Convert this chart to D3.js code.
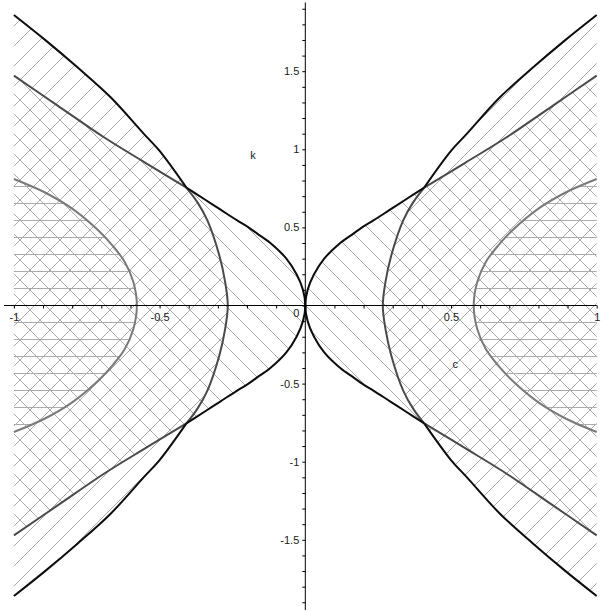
<!DOCTYPE html>
<html>
<head>
<meta charset="utf-8">
<script src="https://cdn.jsdelivr.net/npm/d3@7"></script>
<style>
  html, body { margin: 0; padding: 0; background: #fff; }
  svg { display: block; }
</style>
</head>
<body>
<div id="chart"></div>
<script>
// Boundary curves, upper-right quadrant only (k >= 0, c >= 0).
// The figure is symmetric in c and in k, so each branch is mirrored when drawn.
// O: through the origin, V: vertex near c = 0.27, I: inner curve, vertex near c = 0.58
const kO = [0, 0.1, 0.2, 0.3, 0.4, 0.46, 0.5, 0.546, 0.615, 0.68, 0.755, 0.915, 1.077, 1.28, 1.472];
const cO = [0, 0.008, 0.03, 0.065, 0.12, 0.165, 0.195, 0.235, 0.292, 0.346, 0.408, 0.55, 0.691, 0.85, 1.0];
const kV = [0, 0.15, 0.32, 0.545, 0.66, 0.755, 0.99, 1.099, 1.333, 1.525, 1.699, 1.86];
const cV = [0.266, 0.275, 0.295, 0.336, 0.37, 0.408, 0.5, 0.554, 0.668, 0.782, 0.892, 1.0];
const kI = [0, 0.15, 0.28, 0.38, 0.48, 0.62, 0.725, 0.81];
const cI = [0.578, 0.59, 0.62, 0.66, 0.71, 0.80, 0.895, 1.0];
// index where O and V cross (stroke colour changes there)
const crossO = 10, crossV = 5;

const xTicks = d3.range(-10, 11).map(i => i / 10);
const yTicks = d3.range(-19, 20).map(i => i / 10);
const xLabels = [-1, -0.5, 0.5, 1];
const yLabels = [-1.5, -1, -0.5, 0.5, 1, 1.5];

const W = 612, H = 612;
const FONT = "'Liberation Sans', Arial, Helvetica, sans-serif";

const x = d3.scaleLinear().domain([-1, 1]).range([13.9, 596.7]);
const y = d3.scaleLinear().domain([-1.5, 1.5]).range([539.8, 71.2]);

const svg = d3.select("#chart").append("svg")
  .attr("width", W).attr("height", H)
  .attr("viewBox", `0 0 ${W} ${H}`);
svg.append("rect").attr("width", W).attr("height", H).attr("fill", "#fff");

// ── hatch patterns (page-aligned) ──
const defs = svg.append("defs");
const HATCH = "#ababab";
const pat = (id, w, h, py, d) => {
  defs.append("pattern")
    .attr("id", id).attr("patternUnits", "userSpaceOnUse")
    .attr("x", 0).attr("y", py).attr("width", w).attr("height", h)
    .append("path").attr("d", d)
    .attr("stroke", HATCH).attr("stroke-width", 1).attr("fill", "none");
};
pat("hUp", 20, 20, 0, "M-5,5L5,-5M0,20L20,0M15,25L25,15");
pat("hDown", 20, 20, 0, "M-5,15L5,25M0,0L20,20M15,-5L25,5");
pat("hFlat", 20, 17, 8, "M0,8.5H20");

// points of one quadrant -> [c,k] list, sx mirrors in c
const quad = (ks, cs, sx) => ks.map((k, i) => [sx * cs[i], k]);
// full branch from -k to +k
const branch = pts => pts.slice(1).reverse().map(([c, k]) => [c, -k]).concat(pts);
const flipK = pts => pts.map(([c, k]) => [c, -k]);

const line = d3.line()
  .x(d => x(d[0])).y(d => y(d[1]))
  .curve(d3.curveCatmullRom.alpha(0.5));

// ── hatched regions: outside V "/", outside O "\", outside I "—" ──
const regions = [
  { ks: kV, cs: cV, fill: "url(#hUp)" },
  { ks: kO, cs: cO, fill: "url(#hDown)" },
  { ks: kI, cs: cI, fill: "url(#hFlat)" },
];
regions.forEach(r => {
  [1, -1].forEach(sx => {
    svg.append("path")
      .attr("d", line(branch(quad(r.ks, r.cs, sx))) + "Z")
      .attr("fill", r.fill).attr("stroke", "none");
  });
});

// ── boundary curves ──
const stroke = (pts, col) => svg.append("path")
  .attr("d", line(pts))
  .attr("fill", "none").attr("stroke", col)
  .attr("stroke-width", 2).attr("stroke-linejoin", "round");

const BLACK = "#0d0d0d", DARK = "#4a4a4a", MID = "#7a7a7a";
[1, -1].forEach(sx => {
  const o = quad(kO, cO, sx), v = quad(kV, cV, sx), inn = quad(kI, cI, sx);
  // dark grey: V near its vertex, O past the crossing
  stroke(branch(v.slice(0, crossV + 1)), DARK);
  stroke(o.slice(crossO), DARK);
  stroke(flipK(o.slice(crossO)), DARK);
  // black: O near the origin, V past the crossing
  stroke(branch(o.slice(0, crossO + 1)), BLACK);
  stroke(v.slice(crossV), BLACK);
  stroke(flipK(v.slice(crossV)), BLACK);
  // inner curve
  stroke(branch(inn), MID);
});

// ── axes through the origin ──
const x0 = x(0), y0 = y(0);
const ax = svg.append("g").attr("font-family", FONT);

ax.append("line")
  .attr("x1", x(-1.034)).attr("x2", x(1.0)).attr("y1", y0).attr("y2", y0)
  .attr("stroke", "#000").attr("stroke-width", 1);
ax.append("line")
  .attr("x1", x0).attr("x2", x0).attr("y1", y(1.94)).attr("y2", y(-1.95))
  .attr("stroke", "#000").attr("stroke-width", 1);

const fmt = v => String(Math.round(v * 10) / 10);

const xAxis = d3.axisBottom(x)
  .tickValues(xTicks).tickSize(3).tickPadding(5)
  .tickFormat(v => xLabels.some(l => Math.abs(l - v) < 1e-9) ? fmt(v) : "");
const gx = ax.append("g").attr("transform", `translate(0,${y0})`).call(xAxis);

const yAxis = d3.axisLeft(y)
  .tickValues(yTicks).tickSize(3).tickPadding(3)
  .tickFormat(v => yLabels.some(l => Math.abs(l - v) < 1e-9) ? fmt(v) : "");
const gy = ax.append("g").attr("transform", `translate(${x0},0)`).call(yAxis);

[gx, gy].forEach(g => {
  g.select(".domain").remove();
  g.selectAll(".tick line").attr("stroke", "#000").attr("stroke-width", 1);
  g.selectAll(".tick text")
    .attr("font-family", FONT).attr("font-size", 11).attr("fill", "#1a1a1a");
});

ax.append("text")
  .attr("x", x0 - 6).attr("y", y0 + 11).attr("text-anchor", "end")
  .attr("font-size", 11).attr("fill", "#1a1a1a").text("0");

// axis titles
ax.append("text")
  .attr("x", 253).attr("y", y(0.94)).attr("text-anchor", "middle")
  .attr("font-size", 11).attr("fill", "#1a1a1a").text("k");
ax.append("text")
  .attr("x", x(0.515)).attr("y", y(-0.4)).attr("text-anchor", "middle")
  .attr("font-size", 11).attr("fill", "#1a1a1a").text("c");
</script>
</body>
</html>
